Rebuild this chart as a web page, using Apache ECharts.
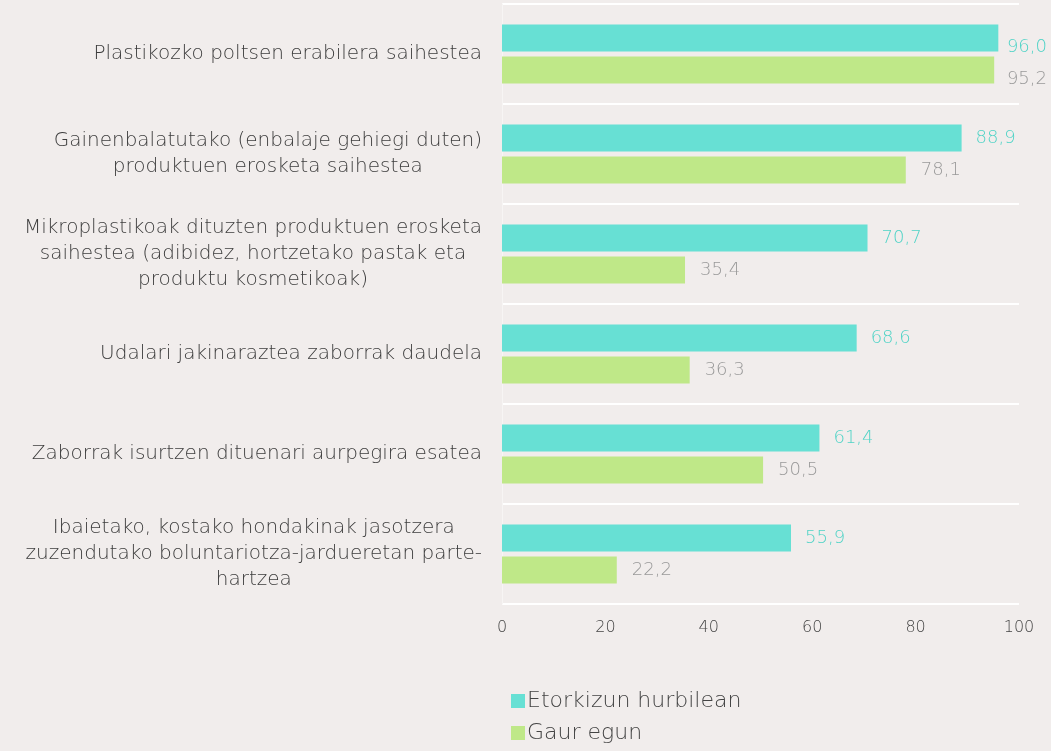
<!DOCTYPE html>
<html>
<head>
<meta charset="utf-8">
<script src="https://cdn.jsdelivr.net/npm/echarts@6/dist/echarts.min.js"></script>
<style>
html,body{margin:0;padding:0;background:#F1EDEC;}
#chart{width:1051px;height:751px;}
</style>
</head>
<body>
<div id="chart"></div>
<script>
const categories = [
  "Plastikozko poltsen erabilera saihestea",
  "Gainenbalatutako (enbalaje gehiegi duten)\nproduktuen erosketa saihestea",
  "Mikroplastikoak dituzten produktuen erosketa\nsaihestea (adibidez, hortzetako pastak eta\nproduktu kosmetikoak)",
  "Udalari jakinaraztea zaborrak daudela",
  "Zaborrak isurtzen dituenari aurpegira esatea",
  "Ibaietako, kostako hondakinak jasotzera\nzuzendutako boluntariotza-jardueretan parte-\nhartzea"
];
const seriesNames = ["Etorkizun hurbilean", "Gaur egun"];
const etorkizun = [96.0, 88.9, 70.7, 68.6, 61.4, 55.9];
const gaur = [95.2, 78.1, 35.4, 36.3, 50.5, 22.2];

const fmt = v => v.toFixed(1).replace('.', ',');
const font = "DejaVu Sans";
const RIGHT_LIMIT = 1047;

// keep value labels inside the canvas (like the original renderer does)
const clampLayout = p => {
  const r = p.labelRect;
  const over = r.x + r.width - RIGHT_LIMIT;
  return over > 0 ? { x: r.x - over } : {};
};

const chart = echarts.init(document.getElementById('chart'));
chart.setOption({
  backgroundColor: '#F1EDEC',
  animation: false,
  textStyle: { fontFamily: font },
  grid: { left: 502, right: 32, top: 4, height: 600, containLabel: false },
  xAxis: {
    type: 'value', min: 0, max: 100, interval: 20,
    axisLine: { show: false }, axisTick: { show: false },
    splitLine: { show: false },
    axisLabel: { color: '#444444', fontSize: 16, margin: 16, fontFamily: font, fontWeight: 300 }
  },
  yAxis: {
    type: 'category', inverse: true, data: categories,
    axisLine: { show: true, lineStyle: { color: '#F7F5F4', width: 1 } },
    axisTick: { show: false },
    splitLine: { show: true, lineStyle: { color: '#FFFFFF', width: 2 } },
    axisLabel: {
      margin: 20, align: 'right', color: '#3C3C3C', fontSize: 20, fontFamily: font, fontWeight: 300,
      lineHeight: 26,
      formatter: v => v.split('\n').map(l => '{c|' + l + '}').join('\n'),
      rich: { c: { align: 'center', color: '#3C3C3C', fontSize: 20, fontFamily: font, fontWeight: 300, lineHeight: 26 } }
    }
  },
  legend: {
    orient: 'vertical', left: 506, top: 685,
    itemWidth: 14, itemHeight: 14, itemGap: 10, icon: 'rect',
    textStyle: { color: '#444444', fontSize: 22, fontFamily: font, fontWeight: 300, padding: [0, 0, 0, -3] },
    data: seriesNames
  },
  series: [
    {
      name: seriesNames[0], type: 'bar', data: etorkizun,
      barCategoryGap: '41%', barGap: '18%',
      itemStyle: { color: '#67E0D4' },
      label: { show: true, position: 'right', distance: 14, color: '#4FD3C6', fontSize: 18, fontFamily: font, fontWeight: 300, formatter: p => fmt(p.value) },
      labelLayout: clampLayout
    },
    {
      name: seriesNames[1], type: 'bar', data: gaur,
      barCategoryGap: '41%', barGap: '18%',
      itemStyle: { color: '#BFE888' },
      label: { show: true, position: 'right', distance: 15, color: '#999999', fontSize: 18, fontFamily: font, fontWeight: 300, formatter: p => fmt(p.value) },
      labelLayout: clampLayout
    }
  ]
});
</script>
</body>
</html>
